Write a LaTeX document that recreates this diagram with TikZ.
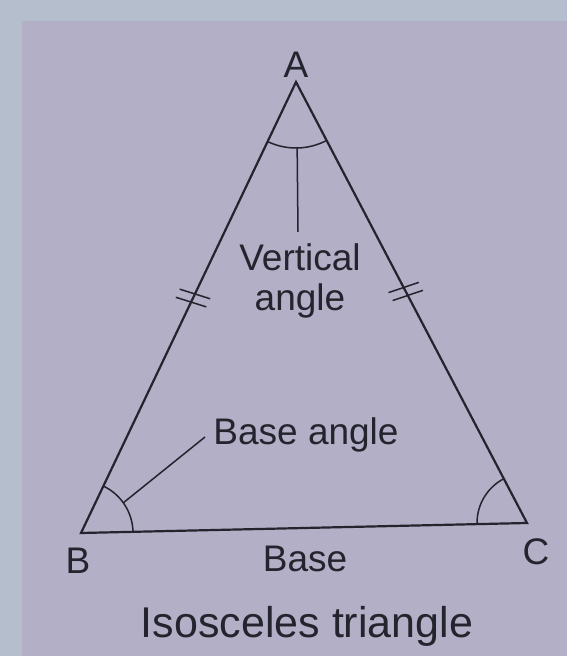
\documentclass[tikz,border=0pt]{standalone}
\usepackage{fontspec}
\setmainfont{Liberation Sans}
\usetikzlibrary{calc,angles}
\definecolor{outerbg}{RGB}{181,190,204}
\definecolor{innerbg}{RGB}{178,175,198}
\definecolor{ink}{RGB}{36,36,46}
\tikzset{
  sideline/.style={draw=ink, line width=2.2pt, line join=miter},
  thinline/.style={draw=ink, line width=1.5pt},
  lbl/.style={text=ink, inner sep=0pt, font=\fontsize{37}{40}\selectfont},
  captxt/.style={text=ink, inner sep=0pt, font=\fontsize{43}{46}\selectfont},
}
\begin{document}
\begin{tikzpicture}[x=1pt,y=1pt]
  \useasboundingbox (0,0) rectangle (567,656);
  \fill[outerbg] (0,0) rectangle (567,656);
  \fill[innerbg] (22,0) rectangle (567,635);
  % vertices
  \coordinate (A) at (296,574);
  \coordinate (B) at (81,123);
  \coordinate (C) at (527,133);
  \draw[sideline] (A) -- (B) -- (C) -- cycle;
  % angle arcs
  \pic[thinline, angle radius=66pt] {angle = B--A--C};
  \pic[thinline, angle radius=52pt] {angle = C--B--A};
  \pic[thinline, angle radius=50pt] {angle = A--C--B};
  % equal-side ticks
  \coordinate (l1) at ($(A)!0.470!(B)$);
  \coordinate (l2) at ($(A)!0.488!(B)$);
  \coordinate (r1) at ($(A)!0.466!(C)$);
  \coordinate (r2) at ($(A)!0.484!(C)$);
  \foreach \p in {l1,l2}
    \draw[thinline] ($(\p)!16pt!98:(B)$) -- ($(\p)!16pt!-82:(B)$);
  \foreach \p in {r1,r2}
    \draw[thinline] ($(\p)!16pt!81:(C)$) -- ($(\p)!16pt!-99:(C)$);
  % labels
  \node[lbl, anchor=base] (la) at (296,578) {A};
  \node[lbl, anchor=base] (lb) at (78,82) {B};
  \node[lbl, anchor=base] (lc) at (536,91) {C};
  \node[lbl, anchor=base] (base) at (305,84) {Base};
  \node[captxt, anchor=base] (title) at (307,19) {Isosceles triangle};
  \node[lbl, anchor=base] (bangle) at (306,211) {Base angle};
  \node[lbl, align=center] (vangle) at (300,375.5) {Vertical\\angle};
  % leaders
  \coordinate (va) at ($(A)+(271:66pt)$);
  \coordinate (vt) at (298,424);
  \draw[thinline] (va) -- (vt);
  \coordinate (ba) at ($(B)+(35.5:52pt)$);
  \coordinate (bt) at (205,219);
  \draw[thinline] (ba) -- (bt);
\end{tikzpicture}
\end{document}
